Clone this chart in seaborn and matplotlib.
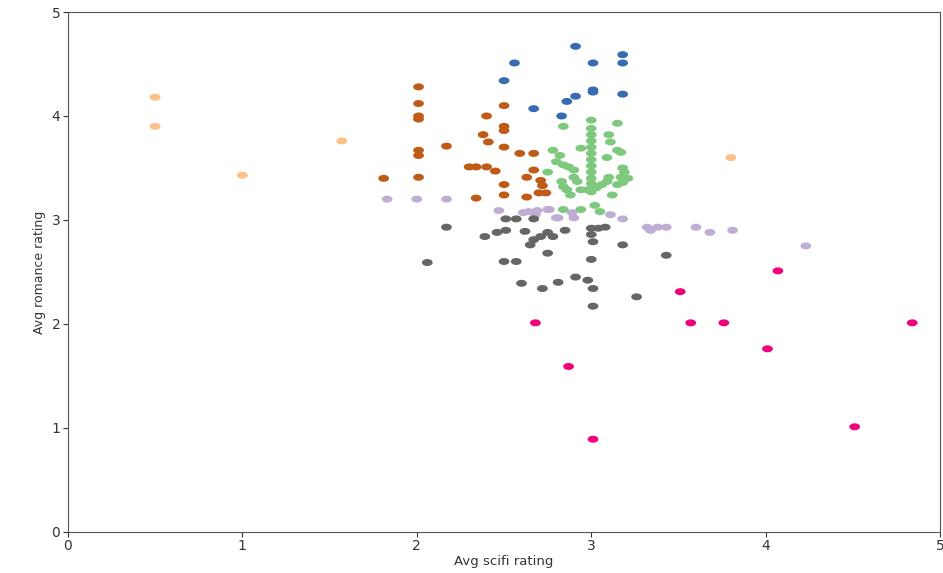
import numpy as np
import pandas as pd
import seaborn as sns
import matplotlib.pyplot as plt

# Average ratings per user, grouped by cluster
c0_scifi = [2.91, 2.56, 3.01, 3.18, 3.18, 2.50, 3.01, 3.01, 3.18, 2.91, 2.86, 2.67, 2.83]
c0_romance = [4.67, 4.51, 4.51, 4.59, 4.51, 4.34, 4.25, 4.23, 4.21, 4.19, 4.14, 4.07, 4.00]

c1_scifi = [1.81, 2.01, 2.01, 2.01, 2.01, 2.01, 2.01, 2.01, 2.17, 2.30, 2.34, 2.40,
            2.45, 2.34, 2.40, 2.38, 2.41, 2.50, 2.50, 2.50, 2.50, 2.50, 2.50, 2.59,
            2.67, 2.63, 2.63, 2.67, 2.71, 2.72, 2.70, 2.74]
c1_romance = [3.40, 4.28, 4.12, 4.00, 3.97, 3.67, 3.62, 3.41, 3.71, 3.51, 3.51, 3.51,
              3.47, 3.21, 4.00, 3.82, 3.75, 4.10, 3.90, 3.86, 3.70, 3.34, 3.24, 3.64,
              3.64, 3.41, 3.22, 3.48, 3.38, 3.33, 3.26, 3.26]

c2_scifi = [2.84, 3.00, 3.15, 3.00, 3.00, 3.00, 3.00, 3.00, 3.00, 3.00, 3.00, 3.00,
            3.00, 3.10, 3.11, 3.15, 3.17, 2.94, 2.78, 2.82, 2.80, 2.84, 2.87, 2.90,
            2.75, 3.09, 3.18, 3.19, 3.17, 3.21, 3.10, 3.09, 3.06, 3.03, 2.90, 2.92,
            2.83, 2.84, 2.86, 2.94, 2.98, 3.00, 3.12, 3.15, 3.18, 2.88, 3.02, 2.84,
            2.94, 3.05]
c2_romance = [3.90, 3.96, 3.93, 3.88, 3.82, 3.76, 3.70, 3.64, 3.58, 3.52, 3.46, 3.40,
              3.35, 3.82, 3.75, 3.67, 3.65, 3.69, 3.67, 3.62, 3.56, 3.53, 3.51, 3.48,
              3.46, 3.60, 3.50, 3.46, 3.41, 3.40, 3.41, 3.37, 3.34, 3.31, 3.41, 3.37,
              3.37, 3.32, 3.29, 3.29, 3.29, 3.27, 3.24, 3.34, 3.36, 3.24, 3.14, 3.10,
              3.10, 3.08]

c3_scifi = [1.83, 2.00, 2.17, 2.47, 2.61, 2.64, 2.68, 2.69, 2.76, 2.81, 2.75, 2.80,
            2.89, 2.90, 3.11, 3.18, 3.32, 3.34, 3.38, 3.43, 3.60, 3.68, 3.81, 4.23]
c3_romance = [3.20, 3.20, 3.20, 3.09, 3.07, 3.08, 3.05, 3.09, 3.10, 3.02, 3.10, 3.02,
              3.07, 3.02, 3.05, 3.01, 2.93, 2.90, 2.93, 2.93, 2.93, 2.88, 2.90, 2.75]

c4_scifi = [2.17, 2.06, 2.39, 2.46, 2.51, 2.51, 2.57, 2.67, 2.62, 2.67, 2.71, 2.75,
            2.78, 2.65, 2.85, 3.00, 3.04, 3.08, 3.00, 3.01, 2.75, 3.18, 3.00, 2.50,
            2.57, 2.60, 2.72, 2.81, 2.91, 2.98, 3.01, 3.01, 3.26, 3.43]
c4_romance = [2.93, 2.59, 2.84, 2.88, 2.90, 3.01, 3.01, 3.01, 2.89, 2.81, 2.84, 2.88,
              2.84, 2.76, 2.90, 2.92, 2.92, 2.93, 2.86, 2.79, 2.68, 2.76, 2.62, 2.60,
              2.60, 2.39, 2.34, 2.40, 2.45, 2.42, 2.34, 2.17, 2.26, 2.66]

c5_scifi = [2.68, 2.87, 3.01, 3.51, 3.57, 3.76, 4.01, 4.07, 4.51, 4.84]
c5_romance = [2.01, 1.59, 0.89, 2.31, 2.01, 2.01, 1.76, 2.51, 1.01, 2.01]

c6_scifi = [0.50, 0.50, 1.00, 1.57, 3.80]
c6_romance = [4.18, 3.90, 3.43, 3.76, 3.60]

cluster_colors = ['#386cb0', '#bf5b17', '#7fc97f', '#beaed4', '#666666', '#f0027f', '#fdc086']

groups = [(c0_scifi, c0_romance), (c1_scifi, c1_romance), (c2_scifi, c2_romance),
          (c3_scifi, c3_romance), (c4_scifi, c4_romance), (c5_scifi, c5_romance),
          (c6_scifi, c6_romance)]
frames = []
for i, (sx, ry) in enumerate(groups):
    frames.append(pd.DataFrame({'scifi': sx, 'romance': ry, 'cluster': i}))
df = pd.concat(frames, ignore_index=True)

sns.set_style('ticks')

fig = plt.figure(figsize=(9.43, 5.73), dpi=100)
ax = fig.add_axes([0.072, 0.072, 0.925, 0.907])

# slightly flattened dots, like in the reference
t = np.linspace(0, 2 * np.pi, 30)
ellipse = np.column_stack([np.cos(t), 0.65 * np.sin(t)])

sns.scatterplot(data=df, x='scifi', y='romance', hue='cluster',
                palette=cluster_colors, marker=ellipse, s=60,
                linewidth=0, legend=False, ax=ax)

ax.set_xlim(0, 5)
ax.set_ylim(0, 5)
ax.set_xticks([0, 1, 2, 3, 4, 5])
ax.set_yticks([0, 1, 2, 3, 4, 5])
ax.set_xlabel('Avg scifi rating', fontsize=9.5, color='#333333', labelpad=1)
ax.set_ylabel('Avg romance rating', fontsize=9, color='#333333')
ax.tick_params(labelsize=10, colors='#333333', pad=2)
for sp in ax.spines.values():
    sp.set_color('#555555')

plt.savefig('out.png')
